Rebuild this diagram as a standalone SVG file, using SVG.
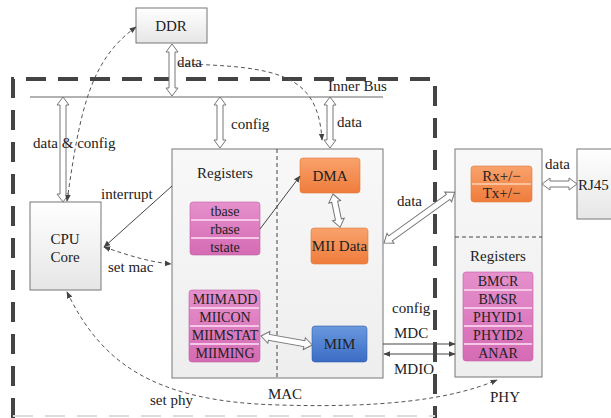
<svg xmlns="http://www.w3.org/2000/svg" width="611" height="418" viewBox="0 0 611 418" font-family="'Liberation Serif', 'Times New Roman', serif">
<defs>
<linearGradient id="boxg" x1="0" y1="0" x2="0" y2="1"><stop offset="0" stop-color="#ffffff"/><stop offset="1" stop-color="#e6e6e6"/></linearGradient>
<linearGradient id="bigg" x1="0" y1="0" x2="0" y2="1"><stop offset="0" stop-color="#f8f8f8"/><stop offset="1" stop-color="#eeeeee"/></linearGradient>
<linearGradient id="pink" x1="0" y1="0" x2="0" y2="1"><stop offset="0" stop-color="#e590cc"/><stop offset="1" stop-color="#d56bb4"/></linearGradient>
<linearGradient id="orange" x1="0" y1="0" x2="0" y2="1"><stop offset="0" stop-color="#f9a26c"/><stop offset="1" stop-color="#ef7c3c"/></linearGradient>
<linearGradient id="blue" x1="0" y1="0" x2="0" y2="1"><stop offset="0" stop-color="#6b98de"/><stop offset="1" stop-color="#3a6cc4"/></linearGradient>
<marker id="ah" viewBox="0 0 10 10" refX="9" refY="5" markerWidth="7" markerHeight="7" orient="auto-start-reverse" markerUnits="userSpaceOnUse"><path d="M0,1 L10,5 L0,9 z" fill="#444"/></marker>
</defs>
<style>
text{font-family:'Liberation Serif','Times New Roman',serif;fill:#222;font-size:15px}
.t{text-anchor:middle}
.r{text-anchor:middle;font-size:14px}
.box{fill:url(#boxg);stroke:#777;stroke-width:1}
.big{fill:url(#bigg);stroke:#777;stroke-width:1}
.pk{fill:url(#pink);stroke:#c55fa6;stroke-width:0.6}
.sep{stroke:#f4c8e6;stroke-width:2}
.or{fill:url(#orange);stroke:#e07a3a;stroke-width:0.6}
.bl{fill:url(#blue);stroke:#2f5fb0;stroke-width:0.6}
.ha{fill:#ffffff;stroke:#777;stroke-width:1}
.dl{fill:none;stroke:#555;stroke-width:1;stroke-dasharray:4 3}
.sl{fill:none;stroke:#444;stroke-width:1}
.dv{stroke:#444;stroke-width:1;stroke-dasharray:4 3}
.outer{fill:none;stroke:#444;stroke-width:4;stroke-dasharray:20 12}
</style>
<g id="boundary">
<path class="outer" d="M13,418 L13,79 L435,79 L435,418"/>
<line x1="13" y1="416" x2="435" y2="416" stroke="#dddddd" stroke-width="2" stroke-dasharray="20 12"/>
</g>
<g id="innerbus">
<line x1="30" y1="97" x2="383" y2="97" stroke="#666" stroke-width="1.2"/>
<text x="328" y="91">Inner Bus</text>
</g>
<g id="ddr">
<rect class="box" x="136" y="8" width="71" height="35"/>
<text class="t" x="171" y="31" font-size="16">DDR</text>
</g>
<g id="cpu">
<rect class="box" x="30" y="202" width="71" height="88"/>
<text class="t" x="65" y="244">CPU</text>
<text class="t" x="65" y="262">Core</text>
</g>
<g id="mac">
<rect class="big" x="172" y="149" width="211" height="229"/>
<line class="dv" x1="277" y1="149" x2="277" y2="378"/>
<text class="t" x="225" y="178">Registers</text>
<text class="t" x="285" y="399">MAC</text>
</g>
<g id="macregs1">
<rect class="pk" x="190" y="202" width="70" height="53" rx="3"/>
<line class="sep" x1="191" y1="220" x2="259" y2="220"/>
<line class="sep" x1="191" y1="238" x2="259" y2="238"/>
<text class="r" x="225" y="216">tbase</text>
<text class="r" x="225" y="234">rbase</text>
<text class="r" x="225" y="252">tstate</text>
</g>
<g id="macregs2">
<rect class="pk" x="189" y="290" width="71" height="72" rx="3"/>
<line class="sep" x1="190" y1="308" x2="259" y2="308"/>
<line class="sep" x1="190" y1="326" x2="259" y2="326"/>
<line class="sep" x1="190" y1="344" x2="259" y2="344"/>
<text class="r" x="225" y="304">MIIMADD</text>
<text class="r" x="225" y="322">MIICON</text>
<text class="r" x="225" y="340">MIIMSTAT</text>
<text class="r" x="225" y="358">MIIMING</text>
</g>
<g id="dma">
<rect class="or" x="300" y="158" width="60" height="35" rx="3"/>
<text class="t" x="330" y="181">DMA</text>
</g>
<g id="miidata">
<rect class="or" x="311" y="228" width="57" height="36" rx="3"/>
<text class="t" x="339.5" y="251">MII Data</text>
</g>
<g id="mim">
<rect class="bl" x="312" y="326" width="55" height="36" rx="3"/>
<text class="t" x="339.5" y="349">MIM</text>
</g>
<g id="phy">
<rect class="big" x="455" y="149" width="87" height="228"/>
<line class="dv" x1="455" y1="237" x2="542" y2="237"/>
<text class="t" x="498" y="261">Registers</text>
<text class="t" x="505" y="402">PHY</text>
</g>
<g id="rxtx">
<rect class="or" x="471" y="166" width="61" height="36" rx="3"/>
<line x1="472" y1="184" x2="531" y2="184" stroke="#fbc29c" stroke-width="2"/>
<text class="t" x="501.5" y="181">Rx+/−</text>
<text class="t" x="501.5" y="198">Tx+/−</text>
</g>
<g id="phyregs">
<rect class="pk" x="463" y="272" width="70" height="89" rx="3"/>
<line class="sep" x1="464" y1="290" x2="532" y2="290"/>
<line class="sep" x1="464" y1="308" x2="532" y2="308"/>
<line class="sep" x1="464" y1="326" x2="532" y2="326"/>
<line class="sep" x1="464" y1="344" x2="532" y2="344"/>
<text class="r" x="498" y="286">BMCR</text>
<text class="r" x="498" y="304">BMSR</text>
<text class="r" x="498" y="322">PHYID1</text>
<text class="r" x="498" y="340">PHYID2</text>
<text class="r" x="498" y="358">ANAR</text>
</g>
<g id="rj45">
<rect class="box" x="577" y="149" width="40" height="70"/>
<text x="578" y="190">RJ45</text>
</g>
<g id="connectors">
<polygon class="ha" transform="translate(172,44) rotate(90)" points="0,0 8,-6 8,-3 44,-3 44,-6 52,0 44,6 44,3 8,3 8,6"/>
<polygon class="ha" transform="translate(63,97) rotate(90)" points="0,0 8,-6 8,-3 97,-3 97,-6 105,0 97,6 97,3 8,3 8,6"/>
<polygon class="ha" transform="translate(220,97) rotate(90)" points="0,0 8,-6 8,-3 43,-3 43,-6 51,0 43,6 43,3 8,3 8,6"/>
<polygon class="ha" transform="translate(330,97) rotate(90)" points="0,0 8,-6 8,-3 43,-3 43,-6 51,0 43,6 43,3 8,3 8,6"/>
<polygon class="ha" transform="translate(333,194) rotate(78)" points="0,0 8,-6 8,-3 26,-3 26,-6 34,0 26,6 26,3 8,3 8,6"/>
<polygon class="ha" transform="translate(261,336) rotate(10)" points="0,0 8,-6 8,-3 44,-3 44,-6 52,0 44,6 44,3 8,3 8,6"/>
<polygon class="ha" transform="translate(384,243) rotate(-35.7)" points="0,0 8,-6 8,-3 79,-3 79,-6 87,0 79,6 79,3 8,3 8,6"/>
<polygon class="ha" transform="translate(542,184)" points="0,0 8,-6 8,-3 27,-3 27,-6 35,0 27,6 27,3 8,3 8,6"/>
<line class="sl" x1="172" y1="186" x2="104" y2="247" marker-end="url(#ah)"/>
<line class="sl" x1="260" y1="229" x2="300" y2="176" marker-end="url(#ah)"/>
<line class="sl" x1="383" y1="344" x2="455" y2="344" marker-end="url(#ah)"/>
<line class="sl" x1="384" y1="354" x2="455" y2="354" marker-start="url(#ah)" marker-end="url(#ah)"/>
<path class="dl" d="M67,201 C80,110 90,60 136,27" marker-start="url(#ah)" marker-end="url(#ah)"/>
<path class="dl" d="M178,64 C280,66 318,75 322,140" marker-end="url(#ah)"/>
<path class="dl" d="M104,247 C130,256 150,262 171,264" marker-start="url(#ah)" marker-end="url(#ah)"/>
<path class="dl" d="M67,292 C100,360 150,402 280,405 C380,408 450,400 497,380" marker-start="url(#ah)" marker-end="url(#ah)"/>
<text x="177" y="67">data</text>
<text x="33" y="148">data &amp; config</text>
<text x="231" y="129">config</text>
<text x="337" y="127">data</text>
<text x="101" y="199">interrupt</text>
<text x="108" y="272">set mac</text>
<text x="150" y="405">set phy</text>
<text x="397" y="206">data</text>
<text x="545" y="169">data</text>
<text x="392" y="313">config</text>
<text x="394" y="338">MDC</text>
<text x="394" y="374">MDIO</text>
</g>
</svg>
